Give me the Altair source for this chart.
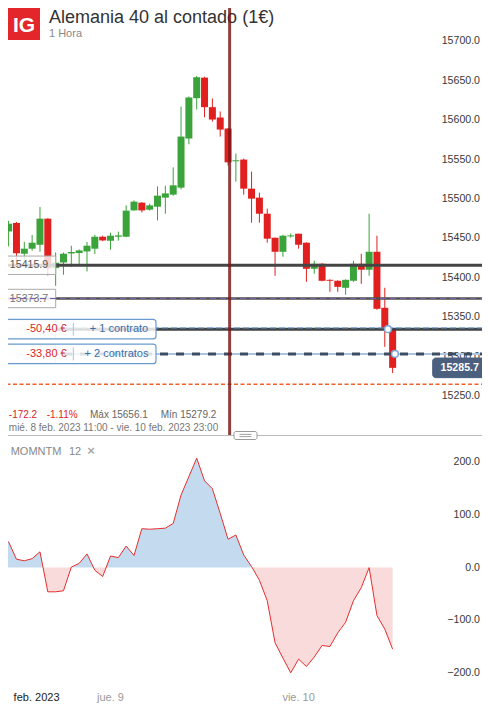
import altair as alt
import pandas as pd
import numpy as np

FONT = "Liberation Sans"
W, H = 490, 716

# ---------------- data ----------------
candle_k = list(range(50))
opens = [15458.8, 15469.5, 15430.5, 15436.9, 15441.9, 15475.0, 15412.3, 15419.4, 15430.9, 15431.4,
         15433.4, 15436.9, 15452.1, 15447.0, 15452.1, 15452.1, 15485.5, 15495.3, 15486.4, 15490.2,
         15501.7, 15505.5, 15514.4, 15576.7, 15627.9, 15654.0, 15616.5, 15603.4, 15589.4, 15547.8,
         15550.0, 15513.1, 15501.7, 15481.3, 15450.8, 15433.0, 15452.5, 15455.9, 15444.5, 15411.4,
         15417.8, 15397.4, 15396.2, 15387.3, 15396.2, 15417.8, 15410.2, 15433.0, 15361.9, 15335.2]
highs = [15472.4, 15470.8, 15445.7, 15454.3, 15489.9, 15475.6, 15432.1, 15432.1, 15440.7, 15436.0,
         15445.4, 15454.6, 15453.4, 15457.2, 15458.5, 15491.9, 15498.2, 15496.0, 15494.1, 15516.0,
         15516.9, 15540.2, 15617.3, 15630.1, 15656.1, 15655.0, 15627.5, 15611.0, 15590.0, 15557.6,
         15551.3, 15534.7, 15508.0, 15487.7, 15451.0, 15454.6, 15456.3, 15456.0, 15445.0, 15421.6,
         15418.5, 15398.0, 15396.8, 15398.0, 15421.6, 15430.5, 15481.3, 15453.4, 15387.3, 15336.0]
lows = [15439.8, 15421.0, 15422.9, 15434.3, 15433.0, 15402.9, 15389.8, 15403.8, 15413.6, 15415.2,
        15408.0, 15430.1, 15446.4, 15435.6, 15447.0, 15451.5, 15485.2, 15483.0, 15485.2, 15472.8,
        15481.3, 15504.2, 15512.2, 15569.4, 15613.5, 15603.7, 15598.3, 15579.2, 15542.4, 15522.0,
        15505.5, 15469.9, 15469.9, 15444.5, 15402.5, 15426.7, 15450.8, 15436.9, 15394.9, 15405.1,
        15395.5, 15382.2, 15382.2, 15378.4, 15394.9, 15392.4, 15402.5, 15359.3, 15312.3, 15279.2]
closes = [15468.6, 15431.0, 15436.9, 15444.5, 15475.0, 15412.0, 15419.1, 15430.5, 15432.7, 15434.7,
          15440.7, 15452.1, 15447.4, 15453.4, 15453.8, 15485.2, 15496.6, 15485.5, 15491.9, 15504.2,
          15507.1, 15517.3, 15579.2, 15628.8, 15654.5, 15616.5, 15600.8, 15588.1, 15546.5, 15549.1,
          15513.1, 15500.4, 15481.3, 15449.6, 15433.0, 15453.4, 15453.8, 15441.9, 15411.4, 15417.8,
          15396.2, 15396.2, 15388.5, 15397.4, 15417.8, 15410.2, 15433.0, 15360.6, 15336.4, 15285.7]

mom_k = list(range(-1, 50))
momentum = [43, 49, 16, 13, 17, 30, -46, -46, -44, 1, 8, 26, -5, -17, 22, 19, 41, 23, 74, 73, 74,
            75, 84, 138, 173, 208, 165, 150, 103, 54, 62, 24, 2, -24, -63, -143, -172, -200, -174,
            -188, -170, -148, -150, -124, -104, -63, -38, 0, -91, -117, -155]

price_ticks = [15250, 15300, 15350, 15400, 15450, 15500, 15550, 15600, 15650, 15700]
mom_ticks = [-200, -100, 0, 100, 200]

support_level = 15415.9
alert_level = 15373.7
order_levels = [15334.8, 15303.4]
order_pnl = ["-50,40 €", "-33,80 €"]
order_size = ["+ 1 contrato", "+ 2 contratos"]
order_marker_k = [48.4, 49.3]
stop_level = 15264.9
last_price = 15285.7
cursor_k = 28.2

day_k = [13, 37]
day_labels = ["jue. 9", "vie. 10"]

# ---------------- scales ----------------
XS = alt.Scale(domain=[-0.4625, 60.7875], nice=False, zero=False)
YP = alt.Scale(domain=[14843.9, 15752.5], nice=False, zero=False)
YM = alt.Scale(domain=[-282.1, 1079.1], nice=False, zero=False)

GREEN = "#3aa33a"
RED = "#e21f1f"

# ---------------- helpers ----------------
def px_text(t, x, y, size, color, weight="normal", align="left", baseline="alphabetic"):
    return alt.Chart(pd.DataFrame({"t": [t]})).mark_text(
        align=align, baseline=baseline, fontSize=size, color=color, fontWeight=weight, font=FONT
    ).encode(x=alt.value(x), y=alt.value(y), text="t:N")


def level_rule(p, color, width, dash=None, x0=0, x1=W, yoff=0, opacity=1.0):
    kw = dict(color=color, strokeWidth=width, opacity=opacity)
    if dash:
        kw["strokeDash"] = dash
    if yoff:
        kw["yOffset"] = yoff
    return alt.Chart(pd.DataFrame({"p": [p]})).mark_rule(**kw).encode(
        y=alt.Y("p:Q", scale=YP, axis=None), x=alt.value(x0), x2=alt.value(x1)
    )


def level_box(p, x0, x1, stroke, fill, fill_op, radius=0, half=9.2, sw=1.0):
    return alt.Chart(pd.DataFrame({"p": [p]})).mark_rect(
        fill=fill, fillOpacity=fill_op, stroke=stroke, strokeWidth=sw,
        cornerRadius=radius, yOffset=-half, y2Offset=half
    ).encode(
        y=alt.Y("p:Q", scale=YP, axis=None), y2="p:Q", x=alt.value(x0), x2=alt.value(x1)
    )


def level_text(p, t, x, size, color, weight="normal", align="center"):
    return alt.Chart(pd.DataFrame({"p": [p], "t": [t]})).mark_text(
        align=align, baseline="middle", fontSize=size, color=color, fontWeight=weight, font=FONT
    ).encode(y=alt.Y("p:Q", scale=YP, axis=None), x=alt.value(x), text="t:N")


# ---------------- candles ----------------
cdf = pd.DataFrame({"k": candle_k, "o": opens, "h": highs, "l": lows, "c": closes})
cdf["dir"] = np.where(cdf["c"] >= cdf["o"], "up", "down")
cdf["bot"] = cdf[["o", "c"]].min(axis=1)
cdf["top"] = cdf[["o", "c"]].max(axis=1)
ccolor = alt.Color("dir:N", scale=alt.Scale(domain=["up", "down"], range=[GREEN, RED]), legend=None)

wicks = alt.Chart(cdf).mark_rule(strokeWidth=1).encode(
    x=alt.X("k:Q", scale=XS, axis=None),
    y=alt.Y("l:Q", scale=YP, axis=None), y2="h:Q", color=ccolor)
bodies = alt.Chart(cdf).mark_bar(size=7).encode(
    x=alt.X("k:Q", scale=XS, axis=None),
    y=alt.Y("bot:Q", scale=YP, axis=None), y2="top:Q", color=ccolor)

# ---------------- momentum ----------------
mdf = pd.DataFrame({"k": mom_k, "v": momentum})
# fill polygons split exactly at the zero crossings of the line
rows = []
for i in range(len(mom_k)):
    rows.append((mom_k[i], momentum[i]))
    if i + 1 < len(mom_k) and momentum[i] * momentum[i + 1] < 0:
        a, b = momentum[i], momentum[i + 1]
        rows.append((mom_k[i] + a / (a - b), 0.0))
adf = pd.DataFrame(rows, columns=["k", "v"])
adf["pos"] = adf["v"].clip(lower=0)
adf["neg"] = adf["v"].clip(upper=0)
adf["zero"] = 0.0

area_pos = alt.Chart(adf).mark_area(color="#c4dbef", opacity=1).encode(
    x=alt.X("k:Q", scale=XS, axis=None), y=alt.Y("pos:Q", scale=YM, axis=None), y2="zero:Q")
area_neg = alt.Chart(adf).mark_area(color="#f9dbdc", opacity=1).encode(
    x=alt.X("k:Q", scale=XS, axis=None), y=alt.Y("neg:Q", scale=YM, axis=None), y2="zero:Q")
mom_line = alt.Chart(mdf).mark_line(color="#e62e2e", strokeWidth=1).encode(
    x=alt.X("k:Q", scale=XS, axis=None), y=alt.Y("v:Q", scale=YM, axis=None))

# ---------------- axis labels ----------------
ptick = alt.Chart(pd.DataFrame({"p": price_ticks})).mark_text(
    align="right", baseline="middle", fontSize=10.6, color="#3a3a3a", font=FONT
).encode(x=alt.value(480), y=alt.Y("p:Q", scale=YP, axis=None), text=alt.Text("p:Q", format=".1f"))
mtick = alt.Chart(pd.DataFrame({"v": mom_ticks})).mark_text(
    align="right", baseline="middle", fontSize=10.6, color="#3a3a3a", font=FONT
).encode(x=alt.value(480), y=alt.Y("v:Q", scale=YM, axis=None), text=alt.Text("v:Q", format=".1f"))

day_text = alt.Chart(pd.DataFrame({"k": day_k, "t": day_labels})).mark_text(
    align="center", baseline="alphabetic", fontSize=11, color="#999999", font=FONT
).encode(x=alt.X("k:Q", scale=XS, axis=None), y=alt.value(701), text="t:N")
month_text = alt.Chart(pd.DataFrame({"k": [0], "t": ["feb. 2023"]})).mark_text(
    align="left", baseline="alphabetic", fontSize=11, color="#222222", font=FONT, dx=5
).encode(x=alt.X("k:Q", scale=XS, axis=None), y=alt.value(701), text="t:N")

# ---------------- header ----------------
logo = alt.Chart(pd.DataFrame({"a": [0]})).mark_rect(color="#e3262a").encode(
    x=alt.value(8), x2=alt.value(40), y=alt.value(8), y2=alt.value(40))
header = [
    logo,
    px_text("IG", 24, 31.8, 21, "white", weight="bold", align="center"),
    px_text("Alemania 40 al contado (1€)", 49, 22.8, 18, "#333333"),
    px_text("1 Hora", 49, 37.4, 11, "#888888"),
]

# ---------------- level lines ----------------
lines = [
    level_rule(support_level, "#454545", 3),
    level_rule(alert_level, "#4e4e4e", 2.5),
    level_rule(order_levels[0], "#454545", 3),
    level_rule(order_levels[0], "#5c93d3", 1, dash=[6, 3], yoff=-1.2),
    level_rule(order_levels[1], "#a9c6e8", 2),
    level_rule(order_levels[1], "#3e4e62", 3, dash=[8, 8]),
    level_rule(stop_level, "#f0602a", 1.5, dash=[4, 2.5]),
]

boxes = [
    level_box(support_level, -1, 55.7, "#aaaaaa", "white", 0.8),
    level_text(support_level, "15415.9", 29, 10.6, "#555555"),
    level_box(alert_level, -1, 55.7, "#aaaaaa", "white", 0.85),
    level_text(alert_level, "15373.7", 29, 10.6, "#777777"),
    level_rule(alert_level, "#7a5ca8", 1, dash=[6, 4]),
]
for p, pnl, size, sx in zip(order_levels, order_pnl, order_size, [119, 116.5]):
    boxes += [
        level_box(p, -1, 55.7, "#bbbbbb", "white", 0.9),
        level_box(p, 4.3, 156, "#6c9bd0", "white", 0.82, radius=3, half=9.8, sw=1.2),
        level_text(p, pnl, 46.5, 11, "#d9262b"),
        alt.Chart(pd.DataFrame({"p": [p]})).mark_rule(
            color="#a8c4e2", strokeWidth=1, yOffset=-6.5, y2Offset=6.5
        ).encode(y=alt.Y("p:Q", scale=YP, axis=None), y2="p:Q", x=alt.value(73.3)),
        level_text(p, size, sx, 11, "#3a6ea8"),
    ]

markers = alt.Chart(pd.DataFrame({"k": order_marker_k, "p": order_levels})).mark_point(
    shape="circle", filled=True, fill="white", stroke="#7ba7d6", strokeWidth=1.5, size=45, opacity=1
).encode(x=alt.X("k:Q", scale=XS, axis=None), y=alt.Y("p:Q", scale=YP, axis=None))

last_box = [
    level_box(last_price, 432.7, 486.7, "#4b5f7f", "#4b5f7f", 1, radius=3, half=9.8),
    level_text(last_price, f"{last_price:.1f}", 459.7, 10.6, "white", weight="bold"),
]

# ---------------- info texts ----------------
info = [
    px_text("-172.2", 8.8, 418.3, 10, "#d9262b"),
    px_text("-1.11%", 46.7, 418.3, 10, "#d9262b"),
    px_text("Máx 15656.1", 90, 418.3, 10, "#666666"),
    px_text("Mín 15279.2", 160.7, 418.3, 10, "#666666"),
    px_text("mié. 8 feb. 2023 11:00 - vie. 10 feb. 2023 23:00", 8.8, 430.7, 10, "#777777"),
    px_text("MOMNTM", 10.7, 455.3, 11, "#888888"),
    px_text("12", 69, 455.3, 11, "#888888"),
    px_text("×", 87.3, 455.3, 13, "#aaaaaa", weight="bold"),
]

# ---------------- panel divider & cursor ----------------
divider = alt.Chart(pd.DataFrame({"a": [0]})).mark_rule(color="#bbbbbb", strokeWidth=1).encode(
    x=alt.value(0), x2=alt.value(W), y=alt.value(435.5))
handle = alt.Chart(pd.DataFrame({"a": [0]})).mark_rect(
    fill="white", stroke="#999999", strokeWidth=1, cornerRadius=2
).encode(x=alt.value(234), x2=alt.value(257), y=alt.value(431.5), y2=alt.value(439.5))
handle_l1 = alt.Chart(pd.DataFrame({"a": [0]})).mark_rule(color="#888888", strokeWidth=0.8).encode(
    x=alt.value(239.5), x2=alt.value(251.5), y=alt.value(434.4))
handle_l2 = alt.Chart(pd.DataFrame({"a": [0]})).mark_rule(color="#888888", strokeWidth=0.8).encode(
    x=alt.value(239.5), x2=alt.value(251.5), y=alt.value(436.6))
cursor = alt.Chart(pd.DataFrame({"k": [cursor_k]})).mark_rule(
    color="#761717", opacity=0.82, strokeWidth=3
).encode(x=alt.X("k:Q", scale=XS, axis=None), y=alt.value(0), y2=alt.value(435))

layers = (
    header
    + [ptick, mtick, area_pos, area_neg, mom_line, wicks, bodies]
    + lines + boxes + [markers] + last_box + info
    + [divider, handle, handle_l1, handle_l2, cursor, day_text, month_text]
)

chart = alt.layer(*layers).resolve_scale(y="independent").properties(
    width=W, height=H,
    padding={"left": -8, "top": -8, "right": -8, "bottom": -13},
    autosize=alt.AutoSizeParams(type="none"),
).configure_view(strokeWidth=0).configure(font=FONT, background="white")

chart.save("out.html", embed_options={"renderer": "svg", "actions": False})
